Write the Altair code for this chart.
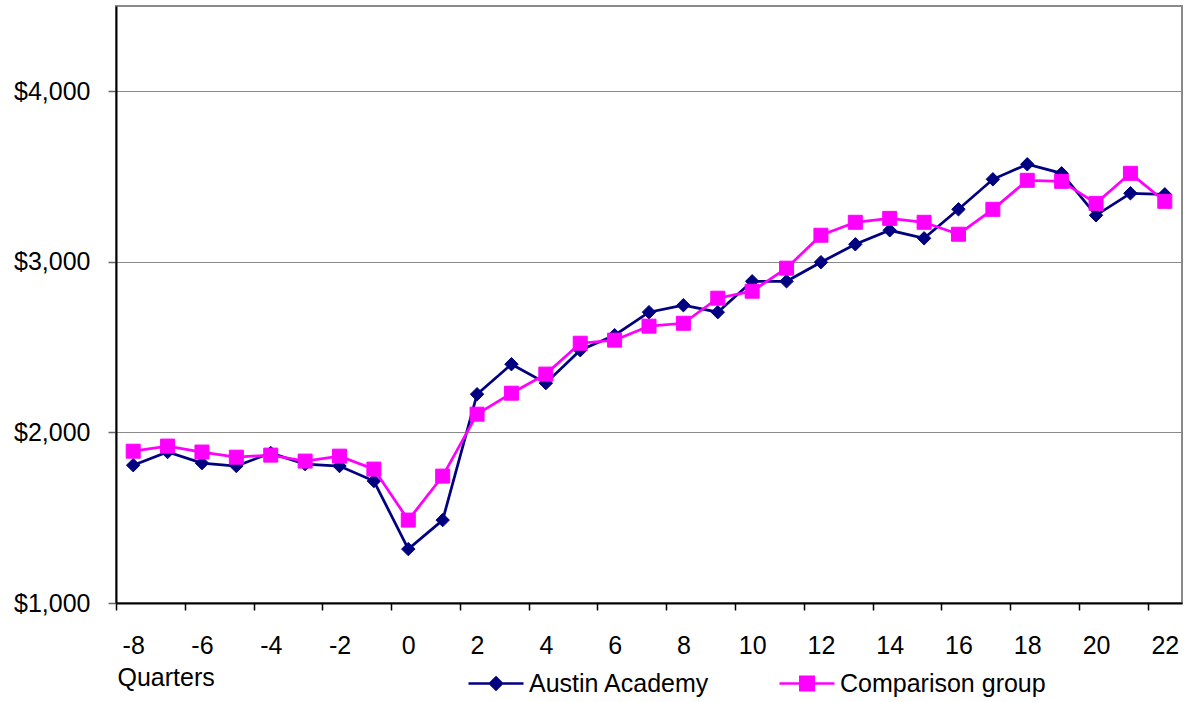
import altair as alt
import pandas as pd

# Quarterly earnings, quarters relative to program entry
quarters = list(range(-8, 23))
austin = [1808, 1885, 1820, 1803, 1879, 1814, 1803, 1715, 1316, 1486,
          2224, 2400, 2289, 2482, 2570, 2705, 2746, 2705, 2886, 2886,
          2998, 3103, 3185, 3138, 3308, 3484, 3572, 3519, 3273, 3402, 3396]
comparison = [1890, 1920, 1885, 1855, 1867, 1832, 1861, 1785, 1486, 1744,
              2107, 2230, 2342, 2523, 2541, 2623, 2640, 2787, 2828, 2963,
              3156, 3232, 3255, 3232, 3162, 3308, 3478, 3472, 3343, 3519, 3355]

series_names = ["Austin Academy", "Comparison group"]
series_colors = ["#000080", "#FF00FF"]
y_ticks = [1000, 2000, 3000, 4000]

rows = []
for q, a, c in zip(quarters, austin, comparison):
    rows.append({"quarter": q, "series": series_names[0], "earnings": a})
    rows.append({"quarter": q, "series": series_names[1], "earnings": c})
df = pd.DataFrame(rows)

FONT = "Liberation Sans"
FS = 25

# Tick marks sit on the boundaries between quarters; labels on every even quarter
x_tick_values = [q - 0.5 for q in quarters] + [quarters[-1] + 0.5]

x_scale = alt.Scale(domain=[quarters[0] - 0.5, quarters[-1] + 0.5], nice=False, zero=False)
y_scale = alt.Scale(domain=[1000, 4500], nice=False, zero=False)

x_axis = alt.Axis(
    values=x_tick_values,
    labelExpr="(datum.value + 0.5) % 2 == 0 ? '' + (datum.value + 0.5) : ''",
    labelOffset=17.2,
    labelFlush=False,
    labelOverlap=False,
    labelBaseline="alphabetic",
    labelPadding=43,
    labelFont=FONT,
    labelFontSize=FS,
    labelColor="black",
    tickSize=7,
    tickColor="black",
    tickWidth=1.5,
    domainColor="black",
    domainWidth=2,
    grid=False,
    title="Quarters",
    titleFont=FONT,
    titleFontSize=FS,
    titleFontWeight="normal",
    titleColor="black",
    titleAnchor="start",
    titleAlign="left",
    titleBaseline="alphabetic",
    titleX=1,
    titleY=82,
)

y_axis = alt.Axis(
    values=y_ticks,
    format="$,.0f",
    labelFont=FONT,
    labelFontSize=FS,
    labelColor="black",
    labelPadding=18,
    tickSize=8,
    tickColor="#666666",
    tickWidth=1.5,
    domainColor="black",
    domainWidth=2,
    grid=True,
    gridColor="#8a8a8a",
    gridWidth=1.2,
    title=None,
)

base = alt.Chart(df)

layers = []
marker_shapes = ["diamond", "square"]
marker_sizes = [180, 196]
for name, color, shape, msize in zip(series_names, series_colors, marker_shapes, marker_sizes):
    sub = base.transform_filter(alt.datum.series == name)
    line = sub.mark_line(color=color, strokeWidth=2.75).encode(
        x=alt.X("quarter:Q", scale=x_scale, axis=x_axis),
        y=alt.Y("earnings:Q", scale=y_scale, axis=y_axis),
    )
    pts = sub.mark_point(
        shape=shape, filled=True, color=color, size=msize,
        stroke=color, strokeWidth=1, opacity=1,
    ).encode(
        x=alt.X("quarter:Q", scale=x_scale),
        y=alt.Y("earnings:Q", scale=y_scale),
    )
    layers += [line, pts]

# Legend symbols: a line with a solid marker on it (marker filled by nested outlines)
diamond_sym = ("M-1,0L1,0"
               "M0,-0.22L0.22,0L0,0.22L-0.22,0Z"
               "M0,-0.13L0.13,0L0,0.13L-0.13,0Z"
               "M0,-0.04L0.04,0L0,0.04L-0.04,0Z")
square_sym = ("M-1,0L1,0"
              "M-0.245,-0.245L0.245,-0.245L0.245,0.245L-0.245,0.245Z"
              "M-0.165,-0.165L0.165,-0.165L0.165,0.165L-0.165,0.165Z"
              "M-0.085,-0.085L0.085,-0.085L0.085,0.085L-0.085,0.085Z"
              "M-0.01,-0.01L0.01,-0.01L0.01,0.01L-0.01,0.01Z")

legend = alt.Legend(
    title=None,
    orient="none",
    direction="horizontal",
    legendX=351,
    legendY=648.5,
    padding=0,
    symbolSize=3025,
    symbolStrokeWidth=2.5,
    symbolOpacity=1,
    labelFont=FONT,
    labelFontSize=FS,
    labelColor="black",
    labelLimit=0,
    labelOffset=4,
    columnPadding=64,
)

legend_layer = base.transform_filter("false").mark_point(
    filled=False, size=3025, strokeWidth=2.5, opacity=1
).encode(
    x=alt.X("quarter:Q", scale=x_scale),
    y=alt.Y("earnings:Q", scale=y_scale),
    color=alt.Color("series:N", scale=alt.Scale(domain=series_names, range=series_colors), legend=legend),
    shape=alt.Shape("series:N", scale=alt.Scale(domain=series_names, range=[diamond_sym, square_sym]), legend=legend),
)
layers.append(legend_layer)

chart = alt.layer(*layers).properties(
    width=1066,
    height=597,
    padding={"left": 116, "top": 6, "right": 7, "bottom": 99},
    autosize=alt.AutoSizeParams(type="none"),
    background="white",
).configure_view(
    stroke="#8a8a8a",
    strokeWidth=2,
)

chart.save("out.html", embed_options={"renderer": "svg", "actions": False})
